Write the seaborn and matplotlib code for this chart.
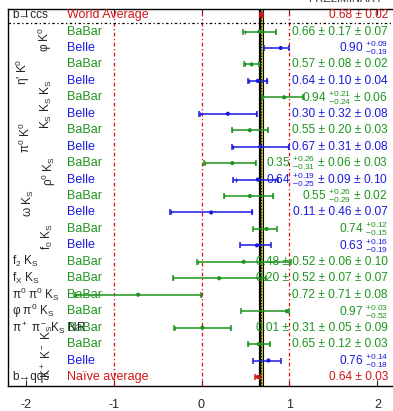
import numpy as np
import pandas as pd
import matplotlib
matplotlib.use("Agg")
import matplotlib.pyplot as plt
import seaborn as sns

# sin(2beta_eff) measurements, top to bottom
experiment = ["World Average", "BaBar", "Belle", "BaBar", "Belle", "BaBar", "Belle",
              "BaBar", "Belle", "BaBar", "Belle", "BaBar", "Belle", "BaBar", "Belle",
              "BaBar", "BaBar", "BaBar", "BaBar", "BaBar", "BaBar", "Belle", "Naïve average"]
central = [0.68, 0.66, 0.90, 0.57, 0.64, 0.94, 0.30, 0.55, 0.67, 0.35, 0.64, 0.55, 0.11,
           0.74, 0.63, 0.48, 0.20, -0.72, 0.97, 0.01, 0.65, 0.76, 0.64]
stat_hi = [0.02, 0.17, 0.09, 0.08, 0.10, 0.21, 0.32, 0.20, 0.31, 0.26, 0.19, 0.26, 0.46,
           0.12, 0.16, 0.52, 0.52, 0.71, 0.03, 0.31, 0.12, 0.14, 0.03]
stat_lo = [0.02, 0.17, 0.19, 0.08, 0.10, 0.24, 0.32, 0.20, 0.31, 0.31, 0.25, 0.29, 0.46,
           0.15, 0.19, 0.52, 0.52, 0.71, 0.52, 0.31, 0.12, 0.18, 0.03]
syst_a = [0, 0.07, 0, 0.02, 0.04, 0.06, 0.08, 0.03, 0.08, 0.06, 0.09, 0.02, 0.07,
          0, 0, 0.06, 0.07, 0.08, 0, 0.05, 0.03, 0, 0]
syst_b = [0, 0, 0, 0, 0, 0, 0, 0, 0, 0.03, 0.10, 0, 0, 0, 0, 0.10, 0.07, 0, 0, 0.09, 0, 0, 0]

# decay mode labels
pair_modes = [r"φ K$^0$", r"η′ K$^0$", r"K$_S$ K$_S$ K$_S$", r"π$^0$ K$^0$",
              r"ρ$^0$ K$_S$", r"ω K$_S$", r"f$_0$ K$_S$", r"K$^+$ K$^-$ K$_S$"]
pair_rows = [1, 3, 5, 7, 9, 11, 13, 20]
pair_x = [-1.78, -2.03, -1.76, -2.00, -1.74, -1.97, -1.75, -1.76]
single_modes = ["b→ccs", r"f$_2$ K$_S$", r"f$_X$ K$_S$", r"π$^0$ π$^0$ K$_S$",
                r"φ π$^0$ K$_S$", r"π$^+$ π$^-$ K$_S$ NR", "b→qqs"]
single_rows = [0, 15, 16, 17, 18, 19, 22]

world_avg = 0.68
world_err = 0.02

colors = {"BaBar": "#1e951e", "Belle": "#1a1ae0",
          "World Average": "#d01515", "Naïve average": "#d01515"}

df = pd.DataFrame({"experiment": experiment, "central": central,
                   "stat_hi": stat_hi, "stat_lo": stat_lo,
                   "syst_a": syst_a, "syst_b": syst_b})
df["row"] = np.arange(len(df))
df["err_hi"] = np.sqrt(df.stat_hi**2 + df.syst_a**2 + df.syst_b**2)
df["err_lo"] = np.sqrt(df.stat_lo**2 + df.syst_a**2 + df.syst_b**2)


def value_text(r):
    s = "%.2f" % r.central
    if r.stat_hi == r.stat_lo:
        s += " ± %.2f" % r.stat_hi
    else:
        s += r" $^{+%.2f}_{-%.2f}$" % (r.stat_hi, r.stat_lo)
    for e in (r.syst_a, r.syst_b):
        if e > 0:
            s += " ± %.2f" % e
    return s


sns.set_theme(style="white")
plt.rcParams["font.family"] = ["Liberation Sans", "DejaVu Sans"]
plt.rcParams["mathtext.fontset"] = "custom"
plt.rcParams["mathtext.rm"] = "Liberation Sans"
plt.rcParams["mathtext.it"] = "Liberation Sans:italic"
plt.rcParams["mathtext.sf"] = "Liberation Sans"
plt.rcParams["mathtext.default"] = "regular"

fig = plt.figure(figsize=(3.93, 4.11), dpi=100)
ax = fig.add_axes([8 / 393, 1 - 386 / 411, 387 / 393, 377 / 411])

# world average band
ax.axvspan(world_avg - world_err, world_avg + world_err, color="#c9c23a", lw=0, zorder=1)
ax.axvline(world_avg - world_err, color="black", lw=1.6, zorder=2)
ax.axvline(world_avg + world_err, color="black", lw=0.8, zorder=2)
ax.axvline(world_avg, color="black", lw=0.8, ls=":", zorder=2)

for v in [-1, 0, 1]:
    ax.axvline(v, color="#e01010", lw=0.9, ls=(0, (3, 2, 1, 2)), zorder=1)
ax.axhline(0.5, color="black", lw=0.9, ls=(0, (2, 2, 1, 2)), zorder=1)

for exp, grp in df.groupby("experiment"):
    ax.errorbar(grp.central, grp.row, xerr=[grp.err_lo, grp.err_hi], fmt="none",
                ecolor=colors[exp], elinewidth=1.1, capsize=2, capthick=1.1, zorder=3)
    has_syst = grp[grp.syst_a > 0]
    ax.scatter(np.r_[has_syst.central + has_syst.stat_hi, has_syst.central - has_syst.stat_lo],
               np.r_[has_syst.row, has_syst.row], marker="|", s=10, lw=0.9,
               color=colors[exp], zorder=3)

sns.scatterplot(data=df, x="central", y="row", hue="experiment", palette=colors,
                s=9, edgecolor="none", legend=False, ax=ax, zorder=4)

for _, r in df.iterrows():
    c = colors[r.experiment]
    ax.text(-1.53, r.row, r.experiment, color=c, fontsize=9, ha="left", va="center")
    ax.text(2.12, r.row, value_text(r), color=c, fontsize=8.6, ha="right", va="center")

for lab, row, x in zip(pair_modes, pair_rows, pair_x):
    ax.text(x, row + 0.45, lab, rotation=90, fontsize=8.5, ha="center", va="center")
for lab, row in zip(single_modes, single_rows):
    ax.text(-2.155, row, lab, fontsize=8.5, ha="left", va="center")

ax.set_xlim(-2.2, 2.2)
ax.set_ylim(22.55, -0.37)
ax.set_yticks([])
ax.set_xticks([-2, -1, 0, 1, 2])
ax.set_xticklabels(["-2", "-1", "0", "1", "2"])
ax.set_xlabel("")
ax.set_ylabel("")
ax.tick_params(axis="x", direction="in", length=4, width=0.8, pad=9,
               labelsize=9, top=True, bottom=True)
for s in ax.spines.values():
    s.set_color("black")
    s.set_linewidth(1.0)

fig.text(0.975, 1.003, "PRELIMINARY", ha="right", va="center", fontsize=8, color="#333333")

fig.savefig("out.png", dpi=100)
